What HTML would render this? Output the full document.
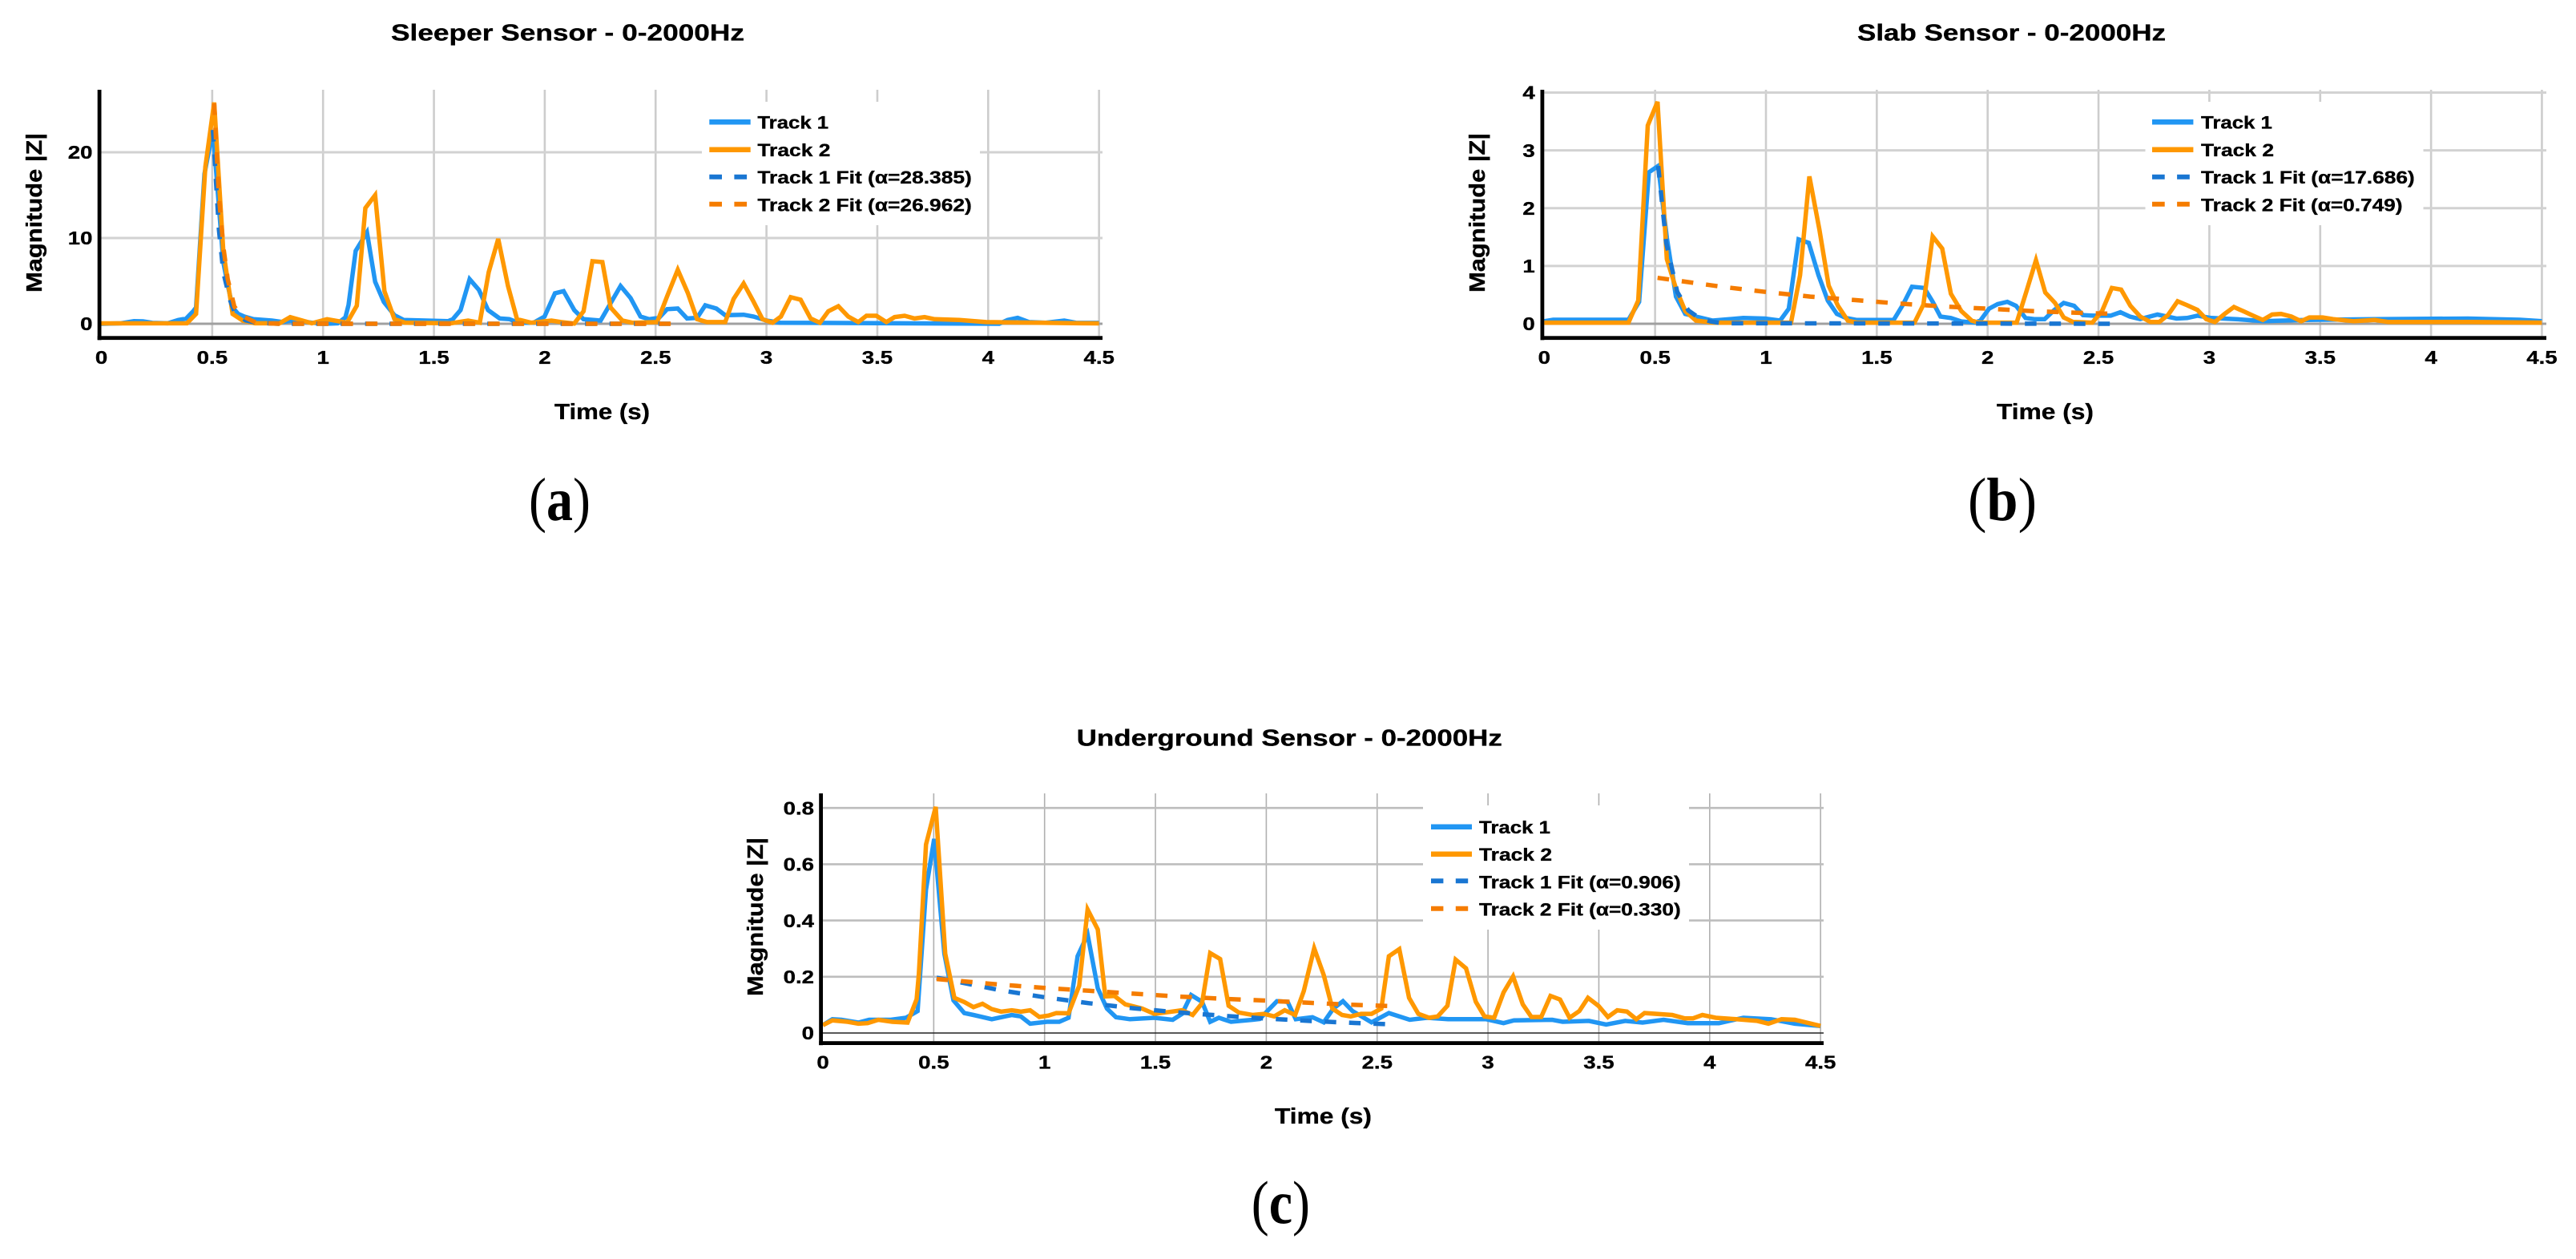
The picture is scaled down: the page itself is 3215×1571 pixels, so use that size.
<!DOCTYPE html>
<html lang="en">
<head>
<meta charset="utf-8">
<title>Sensor decay charts</title>
<style>
html,body{margin:0;padding:0;background:#fff;}
svg{display:block;}
text{font-family:"Liberation Sans",sans-serif;font-weight:bold;fill:#000;stroke:#000;stroke-width:.35px;}
.cap{font-family:"Liberation Serif",serif;font-size:76px;font-weight:normal;stroke-width:0;}
.cap tspan{font-weight:bold;}
.title{font-size:29px;}
.axt{font-size:28px;}
.leg{font-size:22px;}
.tick{font-size:23px;}
</style>
</head>
<body>
<svg id="figure" xmlns="http://www.w3.org/2000/svg" width="3215" height="1571" viewBox="0 0 3215 1571">
<rect x="0" y="0" width="3215" height="1571" fill="#fff"/>
<g id="chart-a"></g>
<g id="chart-b"></g>
<g id="chart-c"></g>

<g>
<text class="title" x="488" y="50.5" textLength="441" lengthAdjust="spacingAndGlyphs">Sleeper Sensor - 0-2000Hz</text>
<text class="axt" x="692" y="523" textLength="119" lengthAdjust="spacingAndGlyphs">Time (s)</text>
<text class="axt" text-anchor="middle" transform="translate(52,265.5) rotate(-90)" textLength="199" lengthAdjust="spacingAndGlyphs">Magnitude |Z|</text>
<text class="cap" x="660" y="649" textLength="77" lengthAdjust="spacingAndGlyphs">(<tspan>a</tspan>)</text>
</g>
<g>
<rect x="876" y="127" width="347" height="154" fill="#fff"/>
<line x1="885.3" x2="936.7" y1="152.3" y2="152.3" stroke="#2196F3" stroke-width="6.5"/>
<line x1="885.3" x2="936.7" y1="186.7" y2="186.7" stroke="#FF9800" stroke-width="6.5"/>
<line x1="885.3" x2="936.7" y1="220.7" y2="220.7" stroke="#1976D2" stroke-width="6" stroke-dasharray="15.7 15.4"/>
<line x1="885.3" x2="936.7" y1="254.7" y2="254.7" stroke="#F57C00" stroke-width="6" stroke-dasharray="15.7 15.4"/>
<text class="leg" x="945.4" y="160.7" textLength="88.7" lengthAdjust="spacingAndGlyphs">Track 1</text>
<text class="leg" x="945.4" y="195" textLength="91" lengthAdjust="spacingAndGlyphs">Track 2</text>
<text class="leg" x="945.4" y="229" textLength="267.4" lengthAdjust="spacingAndGlyphs">Track 1 Fit (α=28.385)</text>
<text class="leg" x="945.4" y="263.3" textLength="267.4" lengthAdjust="spacingAndGlyphs">Track 2 Fit (α=26.962)</text>
</g>

<g>
<text class="title" x="2318" y="50.5" textLength="385" lengthAdjust="spacingAndGlyphs">Slab Sensor - 0-2000Hz</text>
<text class="axt" x="2492" y="523" textLength="121" lengthAdjust="spacingAndGlyphs">Time (s)</text>
<text class="axt" text-anchor="middle" transform="translate(1853,265.5) rotate(-90)" textLength="199" lengthAdjust="spacingAndGlyphs">Magnitude |Z|</text>
<text class="cap" x="2456" y="649" textLength="86" lengthAdjust="spacingAndGlyphs">(<tspan>b</tspan>)</text>
</g>
<g>
<rect x="2677.5" y="127" width="347" height="154" fill="#fff"/>
<line x1="2686" x2="2737.4" y1="152.3" y2="152.3" stroke="#2196F3" stroke-width="6.5"/>
<line x1="2686" x2="2737.4" y1="186.7" y2="186.7" stroke="#FF9800" stroke-width="6.5"/>
<line x1="2686" x2="2737.4" y1="220.7" y2="220.7" stroke="#1976D2" stroke-width="6" stroke-dasharray="15.7 15.4"/>
<line x1="2686" x2="2737.4" y1="254.7" y2="254.7" stroke="#F57C00" stroke-width="6" stroke-dasharray="15.7 15.4"/>
<text class="leg" x="2747" y="160.7" textLength="88.9" lengthAdjust="spacingAndGlyphs">Track 1</text>
<text class="leg" x="2747" y="195" textLength="91" lengthAdjust="spacingAndGlyphs">Track 2</text>
<text class="leg" x="2747" y="229" textLength="266.7" lengthAdjust="spacingAndGlyphs">Track 1 Fit (α=17.686)</text>
<text class="leg" x="2747" y="263.3" textLength="251.5" lengthAdjust="spacingAndGlyphs">Track 2 Fit (α=0.749)</text>
</g>

<g>
<text class="title" x="1343.8" y="930.5" textLength="531" lengthAdjust="spacingAndGlyphs">Underground Sensor - 0-2000Hz</text>
<text class="axt" x="1591" y="1402" textLength="121" lengthAdjust="spacingAndGlyphs">Time (s)</text>
<text class="axt" text-anchor="middle" transform="translate(952,1144) rotate(-90)" textLength="198" lengthAdjust="spacingAndGlyphs">Magnitude |Z|</text>
<text class="cap" x="1561.7" y="1526.7" textLength="73.3" lengthAdjust="spacingAndGlyphs">(<tspan>c</tspan>)</text>
</g>
<g>
<rect x="1776" y="1005" width="332" height="155" fill="#fff"/>
<line x1="1786" x2="1837" y1="1031.7" y2="1031.7" stroke="#2196F3" stroke-width="6.5"/>
<line x1="1786" x2="1837" y1="1065.7" y2="1065.7" stroke="#FF9800" stroke-width="6.5"/>
<line x1="1786" x2="1837" y1="1099.3" y2="1099.3" stroke="#1976D2" stroke-width="6" stroke-dasharray="15.4 15.4"/>
<line x1="1786" x2="1837" y1="1133.7" y2="1133.7" stroke="#F57C00" stroke-width="6" stroke-dasharray="15.4 15.4"/>
<text class="leg" x="1846" y="1040" textLength="89" lengthAdjust="spacingAndGlyphs">Track 1</text>
<text class="leg" x="1846" y="1074" textLength="91" lengthAdjust="spacingAndGlyphs">Track 2</text>
<text class="leg" x="1846" y="1108.3" textLength="251.7" lengthAdjust="spacingAndGlyphs">Track 1 Fit (α=0.906)</text>
<text class="leg" x="1846" y="1142.7" textLength="251.7" lengthAdjust="spacingAndGlyphs">Track 2 Fit (α=0.330)</text>
</g>
</svg>

<script>
// Shared x-axis tick labels
const xTickValues = [0, 0.5, 1, 1.5, 2, 2.5, 3, 3.5, 4, 4.5];
const xTickLabels = ['0', '0.5', '1', '1.5', '2', '2.5', '3', '3.5', '4', '4.5'];

// Chart (a) Sleeper sensor
const sleeperYTicks = [0, 10, 20];
const sleeperYLabels = ['0', '10', '20'];
const sleeperTrack1Times = [0,.09,.147,.188,.23,.3,.347,.382,.414,.427,.465,.503,.55,.571,.592,.617,.645,.686,.769,.817,.859,.9,.949,1.011,1.066,1.101,1.115,1.147,1.198,1.235,1.274,1.322,1.364,1.564,1.585,1.62,1.661,1.703,1.744,1.797,1.841,1.882,1.95,1.999,2.046,2.085,2.133,2.175,2.252,2.297,2.342,2.387,2.432,2.47,2.515,2.552,2.6,2.642,2.687,2.724,2.774,2.814,2.897,2.942,3,3.062,3.87,4.05,4.088,4.133,4.185,4.26,4.343,4.395,4.5];
const sleeperTrack1Values = [0,.06,.3,.28,.1,.06,.44,.6,1.46,1.9,17.5,22.6,7.2,4.4,1.9,1.15,.84,.53,.37,.2,.37,.31,.12,0,.06,.75,2.2,8.5,10.65,4.9,2.55,1,.44,.3,.53,1.6,5.2,3.95,1.6,.62,.53,.12,.12,.84,3.55,3.8,1.6,.53,.37,2.4,4.4,3,.84,.53,.69,1.7,1.78,.62,.69,2.15,1.78,1,1.06,.84,.37,.12,.03,0,.44,.69,.2,.12,.37,.12,.1];
const sleeperTrack2Times = [0,.386,.427,.469,.509,.55,.592,.638,.693,.804,.852,.907,.949,1.018,1.108,1.152,1.191,1.235,1.277,1.322,1.371,1.578,1.654,1.707,1.747,1.79,1.834,1.875,1.938,2.03,2.073,2.133,2.175,2.215,2.26,2.297,2.35,2.395,2.507,2.552,2.6,2.645,2.687,2.732,2.814,2.852,2.897,2.942,2.982,3.027,3.065,3.109,3.154,3.199,3.241,3.279,3.324,3.369,3.414,3.451,3.496,3.541,3.578,3.623,3.668,3.713,3.758,3.87,3.99,4.42,4.5];
const sleeperTrack2Values = [.05,.06,1.15,18.3,25.8,8.5,1.15,.37,.06,.06,.78,.37,.06,.53,.12,2.1,13.5,15,3.8,.53,.12,.06,.37,.12,6,9.9,4.4,.53,.12,.37,.2,.03,1.46,7.3,7.2,1.9,.37,.12,.2,3.2,6.3,3.6,.53,.2,.2,2.9,4.7,2.55,.53,.12,.84,3.1,2.8,.62,.12,1.46,2.05,.84,.2,.93,.93,.2,.78,.93,.62,.78,.53,.44,.2,.06,.05];
const sleeperFit1Times = [.503,.53,.55,.58,.6,.65,.7,.8,2.59];
const sleeperFit1Values = [22.6,11,6,2.8,1.4,.4,.1,0,0];
const sleeperFit2Times = [.509,.53,.55,.57,.6,.63,.66,.7,.8,1,1.5,2,2.59];
const sleeperFit2Values = [25.7,15,9,5.2,2,1,.6,.1,0,0,0,0,0];

// Chart (b) Slab sensor
const slabYTicks = [0, 1, 2, 3, 4];
const slabYLabels = ['0', '1', '2', '3', '4'];
const slabTrack1Times = [0,.04,.38,.428,.472,.514,.553,.594,.636,.684,.76,.898,.995,1.064,1.103,1.147,1.193,1.237,1.279,1.32,1.362,1.41,1.576,1.618,1.659,1.714,1.752,1.787,1.834,1.881,1.943,1.967,2.006,2.045,2.089,2.128,2.171,2.21,2.257,2.301,2.343,2.39,2.43,2.476,2.555,2.599,2.641,2.688,2.766,2.852,2.9,2.946,3.009,3.119,3.244,3.432,3.746,4.166,4.4,4.5];
const slabTrack1Values = [.045,.07,.07,.38,2.62,2.73,1.49,.47,.17,.125,.055,.1,.09,.055,.26,1.46,1.4,.84,.4,.17,.1,.065,.065,.33,.64,.62,.38,.125,.1,.04,.02,.055,.26,.34,.38,.31,.1,.08,.08,.24,.36,.31,.15,.14,.14,.2,.125,.08,.16,.09,.1,.14,.1,.08,.045,.065,.08,.09,.07,.045];
const slabTrack2Times = [0,.38,.424,.467,.511,.553,.594,.636,.684,.76,1.113,1.154,1.196,1.241,1.283,1.325,1.369,1.41,1.67,1.71,1.752,1.795,1.834,1.881,1.928,1.959,2.131,2.175,2.218,2.26,2.304,2.343,2.386,2.472,2.516,2.56,2.602,2.644,2.688,2.735,2.774,2.813,2.857,2.9,2.946,2.986,3.025,3.069,3.111,3.158,3.197,3.241,3.283,3.323,3.37,3.414,3.451,3.511,3.558,3.652,3.746,3.808,4.166,4.5];
const slabTrack2Values = [.02,.02,.4,3.43,3.84,1.12,.61,.22,.055,.02,.02,.84,2.55,1.63,.66,.31,.055,.02,.02,.33,1.51,1.3,.52,.22,.055,.02,.02,.56,1.1,.54,.36,.11,.03,.02,.22,.62,.59,.31,.125,.03,.03,.15,.39,.32,.24,.08,.03,.17,.29,.21,.14,.065,.16,.17,.125,.045,.11,.11,.08,.045,.065,.03,.03,.02];
const slabFit1Times = [.514,.55,.6,.65,.7,.75,.8,2.58];
const slabFit1Values = [2.73,1.4,.55,.23,.095,.04,.01,0];
const slabFit2Times = [.511,.8,1,1.2,1.4,1.6,1.8,2,2.2,2.4,2.58];
const slabFit2Values = [.795,.64,.55,.47,.41,.35,.3,.26,.22,.19,.17];

// Chart (c) Underground sensor
const undergroundYTicks = [0, 0.2, 0.4, 0.6, 0.8];
const undergroundYLabels = ['0', '0.2', '0.4', '0.6', '0.8'];
const undergroundTrack1Times = [0,.043,.084,.16,.209,.306,.375,.427,.465,.502,.548,.589,.638,.679,.762,.852,.893,.935,1.011,1.066,1.108,1.149,1.194,1.24,1.281,1.322,1.385,1.495,1.578,1.62,1.661,1.71,1.747,1.786,1.841,1.938,1.97,2.048,2.096,2.133,2.208,2.259,2.302,2.346,2.389,2.475,2.553,2.647,2.726,2.82,2.992,3.07,3.117,3.29,3.337,3.455,3.533,3.619,3.697,3.792,3.901,4.042,4.152,4.277,4.384,4.5];
const undergroundTrack1Values = [.028,.049,.047,.037,.047,.047,.054,.078,.51,.69,.282,.116,.071,.064,.049,.064,.059,.033,.04,.04,.054,.273,.35,.159,.087,.056,.049,.054,.047,.068,.135,.111,.04,.054,.04,.047,.05,.113,.111,.049,.056,.038,.087,.113,.078,.038,.071,.047,.054,.049,.049,.035,.045,.047,.04,.043,.03,.043,.037,.047,.035,.035,.054,.049,.033,.025];
const undergroundTrack2Times = [0,.043,.112,.16,.202,.25,.313,.382,.423,.433,.465,.509,.552,.593,.638,.679,.72,.762,.804,.852,.893,.935,.976,1.018,1.053,1.108,1.156,1.194,1.24,1.274,1.315,1.364,1.44,1.495,1.564,1.62,1.668,1.71,1.747,1.792,1.83,1.876,1.938,1.989,2.036,2.083,2.13,2.169,2.216,2.259,2.298,2.342,2.381,2.428,2.475,2.519,2.553,2.6,2.644,2.686,2.734,2.773,2.817,2.854,2.901,2.945,2.984,3.028,3.07,3.113,3.157,3.196,3.24,3.282,3.325,3.368,3.412,3.451,3.498,3.541,3.583,3.627,3.669,3.706,3.831,3.886,3.925,3.967,4.027,4.12,4.215,4.265,4.324,4.384,4.5];
const undergroundTrack2Values = [.028,.045,.04,.033,.035,.047,.04,.037,.12,.21,.67,.804,.282,.125,.11,.092,.104,.085,.076,.081,.076,.081,.057,.062,.071,.07,.168,.439,.368,.13,.132,.102,.087,.068,.075,.081,.064,.106,.284,.263,.097,.073,.064,.068,.059,.081,.064,.149,.301,.206,.087,.064,.059,.068,.068,.087,.273,.298,.125,.068,.054,.059,.097,.261,.23,.111,.059,.054,.144,.201,.102,.057,.057,.132,.119,.054,.078,.125,.097,.057,.081,.076,.049,.071,.064,.052,.052,.064,.054,.049,.043,.033,.049,.047,.025];
const undergroundFit1Times = [.513,.8,1,1.2,1.4,1.6,1.8,2,2.2,2.4,2.56];
const undergroundFit1Values = [.197,.152,.127,.106,.088,.0735,.0615,.0512,.0428,.0357,.031];
const undergroundFit2Times = [.513,.8,1,1.2,1.4,1.6,1.8,2,2.2,2.4,2.59];
const undergroundFit2Values = [.192,.172,.16,.15,.14,.13,.122,.115,.107,.1,.095];

const SVG_NS = 'http://www.w3.org/2000/svg';

function drawChart(host, geo, yTicks, yLabels, t1, v1, t2, v2, f1t, f1v, f2t, f2v) {
  const xScale = function (t) { return geo.x0 + t * geo.pxPerSecond; };
  const yScale = function (v) { return geo.y0 - v * geo.pxPerUnit; };
  const pathOf = function (ts, vs) {
    return ts.map(function (t, i) {
      return (i ? 'L' : 'M') + xScale(t).toFixed(1) + ' ' + yScale(vs[i]).toFixed(1);
    }).join('');
  };

  xTickValues.forEach(function (t, i) {
    const grid = document.createElementNS(SVG_NS, 'line');
    
    
    grid.setAttribute('x1', xScale(t));
    grid.setAttribute('x2', xScale(t));
    grid.setAttribute('y1', geo.top);
    grid.setAttribute('y2', geo.axisY);
    grid.setAttribute('stroke', geo.vGridColor);
    grid.setAttribute('stroke-width', geo.vGridWidth);
    if (t > 0) host.appendChild(grid);

    const label = document.createElementNS(SVG_NS, 'text');
    
    
    label.setAttribute('class', 'tick');
    label.setAttribute('text-anchor', 'middle');
    label.setAttribute('transform', 'translate(' + xScale(t) + ',' + (geo.axisY + 34.5) + ') scale(1.2,1)');
    label.textContent = xTickLabels[i];
    host.appendChild(label);
  });

  yTicks.forEach(function (v, i) {
    const grid = document.createElementNS(SVG_NS, 'line');
    
    
    grid.setAttribute('x1', geo.x0);
    grid.setAttribute('x2', geo.right);
    grid.setAttribute('y1', yScale(v));
    grid.setAttribute('y2', yScale(v));
    grid.setAttribute('stroke', v === 0 ? geo.zeroColor : geo.hGridColor);
    grid.setAttribute('stroke-width', v === 0 ? geo.zeroWidth : geo.hGridWidth);
    host.appendChild(grid);

    const label = document.createElementNS(SVG_NS, 'text');
    
    
    label.setAttribute('class', 'tick');
    label.setAttribute('text-anchor', 'end');
    label.setAttribute('transform', 'translate(' + geo.tickRight + ',' + (yScale(v) + 8.2) + ') scale(1.2,1)');
    label.textContent = yLabels[i];
    host.appendChild(label);
  });

  const track1 = document.createElementNS(SVG_NS, 'path');
  
  
  track1.setAttribute('d', pathOf(t1, v1));
  track1.setAttribute('fill', 'none');
  track1.setAttribute('stroke', '#2196F3');
  track1.setAttribute('stroke-width', '5.5');
  host.appendChild(track1);

  const track2 = document.createElementNS(SVG_NS, 'path');
  
  
  track2.setAttribute('d', pathOf(t2, v2));
  track2.setAttribute('fill', 'none');
  track2.setAttribute('stroke', '#FF9800');
  track2.setAttribute('stroke-width', '5.5');
  host.appendChild(track2);

  const fit1 = document.createElementNS(SVG_NS, 'path');
  
  
  fit1.setAttribute('d', pathOf(f1t, f1v));
  fit1.setAttribute('fill', 'none');
  fit1.setAttribute('stroke', '#1976D2');
  fit1.setAttribute('stroke-width', '5.5');
  fit1.setAttribute('stroke-dasharray', '14.5 16');
  host.appendChild(fit1);

  const fit2 = document.createElementNS(SVG_NS, 'path');
  
  
  fit2.setAttribute('d', pathOf(f2t, f2v));
  fit2.setAttribute('fill', 'none');
  fit2.setAttribute('stroke', '#F57C00');
  fit2.setAttribute('stroke-width', '5.5');
  fit2.setAttribute('stroke-dasharray', '14.5 16');
  host.appendChild(fit2);

  const yAxis = document.createElementNS(SVG_NS, 'rect');
  
  
  yAxis.setAttribute('x', geo.x0 - 4.8);
  yAxis.setAttribute('y', geo.top);
  yAxis.setAttribute('width', 4.8);
  yAxis.setAttribute('height', geo.axisY + 5 - geo.top);
  yAxis.setAttribute('fill', '#000');
  host.appendChild(yAxis);

  const xAxis = document.createElementNS(SVG_NS, 'rect');
  
  
  xAxis.setAttribute('x', geo.x0 - 4.8);
  xAxis.setAttribute('y', geo.axisY);
  xAxis.setAttribute('width', geo.right - geo.x0 + 4.8);
  xAxis.setAttribute('height', 4.8);
  xAxis.setAttribute('fill', '#000');
  host.appendChild(xAxis);
}

drawChart(document.getElementById('chart-a'),
  {x0:126.5, pxPerSecond:276.7, y0:404, pxPerUnit:10.7, top:112, axisY:419.3, right:1376, tickRight:115.5,
   vGridColor:'#cdcdcd', vGridWidth:2.6, hGridColor:'#d2d2d2', hGridWidth:3, zeroColor:'#a0a0a0', zeroWidth:3},
  sleeperYTicks, sleeperYLabels, sleeperTrack1Times, sleeperTrack1Values, sleeperTrack2Times, sleeperTrack2Values,
  sleeperFit1Times, sleeperFit1Values, sleeperFit2Times, sleeperFit2Values);

drawChart(document.getElementById('chart-b'),
  {x0:1927.3, pxPerSecond:276.7, y0:404, pxPerUnit:72.13, top:112, axisY:419.3, right:3178, tickRight:1915.7,
   vGridColor:'#cdcdcd', vGridWidth:2.6, hGridColor:'#d2d2d2', hGridWidth:3, zeroColor:'#a0a0a0', zeroWidth:3},
  slabYTicks, slabYLabels, slabTrack1Times, slabTrack1Values, slabTrack2Times, slabTrack2Values,
  slabFit1Times, slabFit1Values, slabFit2Times, slabFit2Values);

drawChart(document.getElementById('chart-c'),
  {x0:1027, pxPerSecond:276.7, y0:1289, pxPerUnit:351, top:990, axisY:1299.2, right:2276, tickRight:1016,
   vGridColor:'#b0b0b0', vGridWidth:1.6, hGridColor:'#bdbdbd', hGridWidth:2.6, zeroColor:'#222', zeroWidth:1.6},
  undergroundYTicks, undergroundYLabels, undergroundTrack1Times, undergroundTrack1Values, undergroundTrack2Times, undergroundTrack2Values,
  undergroundFit1Times, undergroundFit1Values, undergroundFit2Times, undergroundFit2Values);
</script>
</body>
</html>
